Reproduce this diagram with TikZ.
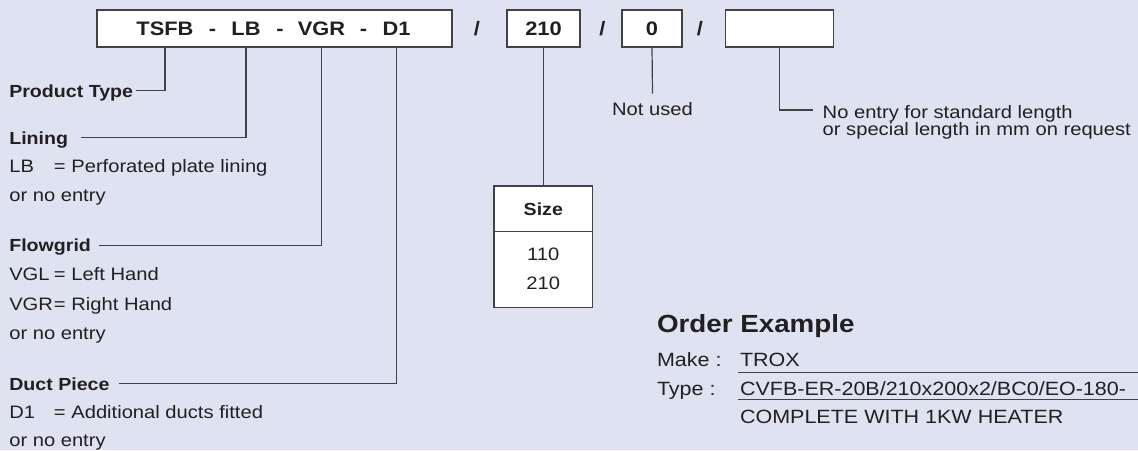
\documentclass[tikz,border=0pt]{standalone}
\usepackage{fontspec}
\setmainfont{Liberation Sans}[FakeStretch=1.12]
\usetikzlibrary{calc}
\definecolor{bg}{RGB}{223,227,241}
\definecolor{ink}{RGB}{35,31,32}
\definecolor{rulec}{RGB}{66,66,70}
\begin{document}
\begin{tikzpicture}[x=1pt,y=-1pt,
  every node/.style={inner sep=0pt, outer sep=0pt, text=ink},
  codebox/.style={draw=rulec, line width=1.4pt, fill=white},
  conn/.style={draw=rulec, line width=1.2pt},
  thinrule/.style={draw=rulec, line width=1.0pt},
  lbl/.style={font=\fontsize{18}{22}\selectfont, anchor=base west},
  blbl/.style={font=\fontsize{17.5}{22}\selectfont\bfseries, anchor=base west, text height=13pt, text depth=0pt},
  tok/.style={font=\fontsize{19.5}{22}\selectfont\bfseries, anchor=base},
  ordr/.style={font=\fontsize{19.2}{23}\selectfont, anchor=base west},
]
% background and bounding box
\fill[bg] (0,0) rectangle (1138,450);
\useasboundingbox (0,0) rectangle (1138,450);
\coordinate (rightedge) at (1138,0);

% ---- top code row ----
\node[codebox, minimum width=355, minimum height=37] (mainbox) at (274.5,28.5) {};
\node[tok] (tsfb) at (165,35.5) {TSFB};
\node[tok] (d1) at (212.5,35.5) {-};
\node[tok] (lb) at (246,35.5) {LB};
\node[tok] (d2) at (280,35.5) {-};
\node[tok] (vgr) at (321.5,35.5) {VGR};
\node[tok] (d3) at (363.5,35.5) {-};
\node[tok] (dp) at (396.5,35.5) {D1};

\node[tok] (s1) at (477,35.5) {/};
\node[codebox, minimum width=73, minimum height=37] (b210) at (543.5,28.5) {};
\node[tok] (t210) at (543.5,35.5) {210};
\node[tok] (s2) at (602.5,35.5) {/};
\node[codebox, minimum width=60, minimum height=37] (b0) at (652,28.5) {};
\node[tok] (t0) at (652,35.5) {0};
\node[tok] (s3) at (700,35.5) {/};
\node[codebox, minimum width=107.6, minimum height=37] (blen) at (779.5,28.5) {};

% ---- left labels ----
\node[blbl] (ptype) at (9.3,97) {Product Type};

\node[blbl] (lining) at (9.3,144.3) {Lining};
\node[lbl] (liningA) at (9.3,172.7) {\makebox[44.7pt][l]{LB}= Perforated plate lining};
\node[lbl] (liningB) at (9.3,201.5) {or no entry};

\node[blbl] (flow) at (9.3,251.7) {Flowgrid};
\node[lbl] (flowA) at (9.3,280.7) {\makebox[44.7pt][l]{VGL}= Left Hand};
\node[lbl] (flowB) at (9.3,310) {\makebox[44.7pt][l]{VGR}= Right Hand};
\node[lbl] (flowC) at (9.3,339.3) {or no entry};

\node[blbl] (duct) at (9.3,390) {Duct Piece};
\node[lbl] (ductA) at (9.3,418.3) {\makebox[44.7pt][l]{D1}= Additional ducts fitted};
\node[lbl] (ductB) at (9.3,446.5) {or no entry};

% ---- left connectors ----
\draw[conn] (tsfb.south |- mainbox.south) |- ($(ptype.east)+(3,0)$);
\draw[conn] (lb.south |- mainbox.south) |- ($(lining.east)+(13,0)$);
\draw[conn] (vgr.south |- mainbox.south) |- ($(flow.east)+(8,0)$);
\draw[conn] (dp.south |- mainbox.south) |- ($(duct.east)+(9,0)$);

% ---- size table ----
\node[codebox, minimum width=98.7, minimum height=121.7] (sizebox) at (543.3,246.85) {};
\coordinate (sizediv) at (543.3,231.7);
\draw[codebox] (sizebox.west |- sizediv) -- (sizebox.east |- sizediv);
\node[font=\fontsize{17.5}{22}\selectfont\bfseries, anchor=base] (sizeh) at (543.3,215) {Size};
\node[font=\fontsize{18}{22}\selectfont, anchor=base] (size1) at (543.3,260) {110};
\node[font=\fontsize{18}{22}\selectfont, anchor=base] (size2) at (543.3,289.3) {210};
\draw[conn] (b210.south) -- (b210.south |- sizebox.north);

% ---- not used ----
\node[font=\fontsize{18}{22}\selectfont, anchor=base, text height=13pt, text depth=0pt] (notused) at (652.5,115.5) {Not used};
\draw[conn] (b0.south) -- ($(notused.north)+(0,-9)$);

% ---- length ----
\node[lbl] (lenA) at (822.7,118) {No entry for standard length};
\node[lbl] (lenB) at (822.7,135.5) {or special length in mm on request};
\draw[conn] (blen.south) |- ($(lenA.base west)+(-10,-8)$);

% ---- order example ----
\node[font=\fontsize{24.8}{28}\selectfont\bfseries, anchor=base west] (ordh) at (657,332.3) {Order Example};
\node[ordr] (make) at (657,366) {Make :};
\node[ordr] (trox) at (740,366) {TROX};
\node[ordr] (typ) at (657,395) {Type :};
\node[ordr] (typv) at (740,395) {CVFB-ER-20B/210x200x2/BC0/EO-180-};
\node[ordr] (compl) at (740,423.3) {COMPLETE WITH 1KW HEATER};
\coordinate (ruleA) at ($(trox.base west)+(-2.3,6.7)$);
\coordinate (ruleB) at ($(typv.base west)+(-2.3,4.3)$);
\draw[thinrule] (ruleA) -- (ruleA -| rightedge);
\draw[thinrule] (ruleB) -- (ruleB -| rightedge);
\end{tikzpicture}
\end{document}
